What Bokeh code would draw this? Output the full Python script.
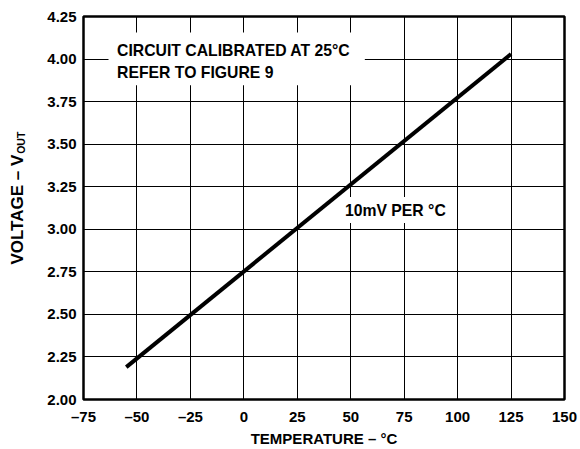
import math
from bokeh.plotting import figure
from bokeh.layouts import row
from bokeh.models import Range1d, FixedTicker, PrintfTickFormatter, Label
from bokeh.core.properties import value
from bokeh.embed import file_html
from bokeh.resources import INLINE

# ---- data ----
temperature = [-55, 125]          # °C
voltage = [2.19, 4.03]            # V_OUT
x_ticks = [-75, -50, -25, 0, 25, 50, 75, 100, 125, 150]
x_tick_labels = ["–75", "–50", "–25", "0", "25", "50", "75", "100", "125", "150"]
y_ticks = [2.00, 2.25, 2.50, 2.75, 3.00, 3.25, 3.50, 3.75, 4.00, 4.25]

FONT = "Liberation Sans"
W, H = 580, 449
LEFT_W = 30

# ---- narrow figure carrying the rotated y-axis title ----
lf = figure(width=LEFT_W, height=H, output_backend="svg", toolbar_location=None,
            x_range=Range1d(0, LEFT_W), y_range=Range1d(0, H),
            min_border_left=0, min_border_right=0, min_border_top=0, min_border_bottom=0)
lf.axis.visible = False
lf.grid.visible = False
lf.outline_line_color = None
lf.text(x=[17], y=[H - 162], text=["VOLTAGE – V"], angle=math.pi / 2,
        text_font=value(FONT), text_font_style="bold", text_font_size="17px",
        text_align="right", text_baseline="middle", text_color="black")
lf.text(x=[20], y=[H - 161], text=["OUT"], angle=math.pi / 2,
        text_font=value(FONT), text_font_style="bold", text_font_size="10.5px",
        text_align="left", text_baseline="middle", text_color="black")

# ---- main chart ----
p = figure(width=W - LEFT_W, height=H, output_backend="svg", toolbar_location=None,
           x_range=Range1d(-75, 150), y_range=Range1d(2.0, 4.25),
           min_border_left=83 - LEFT_W, min_border_right=16, min_border_top=16,
           min_border_bottom=49)

p.outline_line_color = "black"
p.outline_line_width = 2.5

for ax in (p.xaxis[0], p.yaxis[0]):
    ax.axis_line_color = None
    ax.major_tick_line_color = None
    ax.minor_tick_line_color = None
    ax.major_tick_in = 0
    ax.major_tick_out = 0
    ax.minor_tick_in = 0
    ax.minor_tick_out = 0
    ax.major_label_text_font = FONT
    ax.major_label_text_font_style = "bold"
    ax.major_label_text_font_size = "15px"
    ax.major_label_text_color = "black"

p.xaxis[0].ticker = FixedTicker(ticks=x_ticks)
p.xaxis[0].major_label_overrides = {t: l for t, l in zip(x_ticks, x_tick_labels)}
p.xaxis[0].major_label_standoff = 8
p.xaxis[0].axis_label = "TEMPERATURE – °C"
p.xaxis[0].axis_label_text_font = FONT
p.xaxis[0].axis_label_text_font_style = "bold"
p.xaxis[0].axis_label_text_font_size = "15px"
p.xaxis[0].axis_label_text_color = "black"
p.xaxis[0].axis_label_standoff = 2

p.yaxis[0].ticker = FixedTicker(ticks=y_ticks)
p.yaxis[0].formatter = PrintfTickFormatter(format="%.2f")
p.yaxis[0].major_label_standoff = 7

p.xgrid[0].ticker = FixedTicker(ticks=x_ticks)
p.ygrid[0].ticker = FixedTicker(ticks=y_ticks)
for g in (p.xgrid[0], p.ygrid[0]):
    g.grid_line_color = "black"
    g.grid_line_width = 1
    g.grid_line_alpha = 1

# white boxes behind annotations (hide the grid)
p.quad(left=[-63.3], right=[56.6], bottom=[3.846], top=[4.156],
       fill_color="white", line_color=None)
p.quad(left=[45.0], right=[97.3], bottom=[3.037], top=[3.190],
       fill_color="white", line_color=None)

# main line
p.line(temperature, voltage, line_color="black", line_width=4, line_cap="butt")

def lab(x, y, text, size):
    p.add_layout(Label(x=x, y=y, text=text, text_font=FONT, text_font_style="bold",
                       text_font_size=size, text_color="black", text_align="left",
                       text_baseline="middle"))

lab(-59.3, 4.048, "CIRCUIT CALIBRATED AT 25°C", "15.75px")
lab(-59.3, 3.919, "REFER TO FIGURE 9", "15.75px")
lab(47.3, 3.111, "10mV PER °C", "15.75px")

layout = row(lf, p)
open("out.html", "w").write(file_html(layout, INLINE))
